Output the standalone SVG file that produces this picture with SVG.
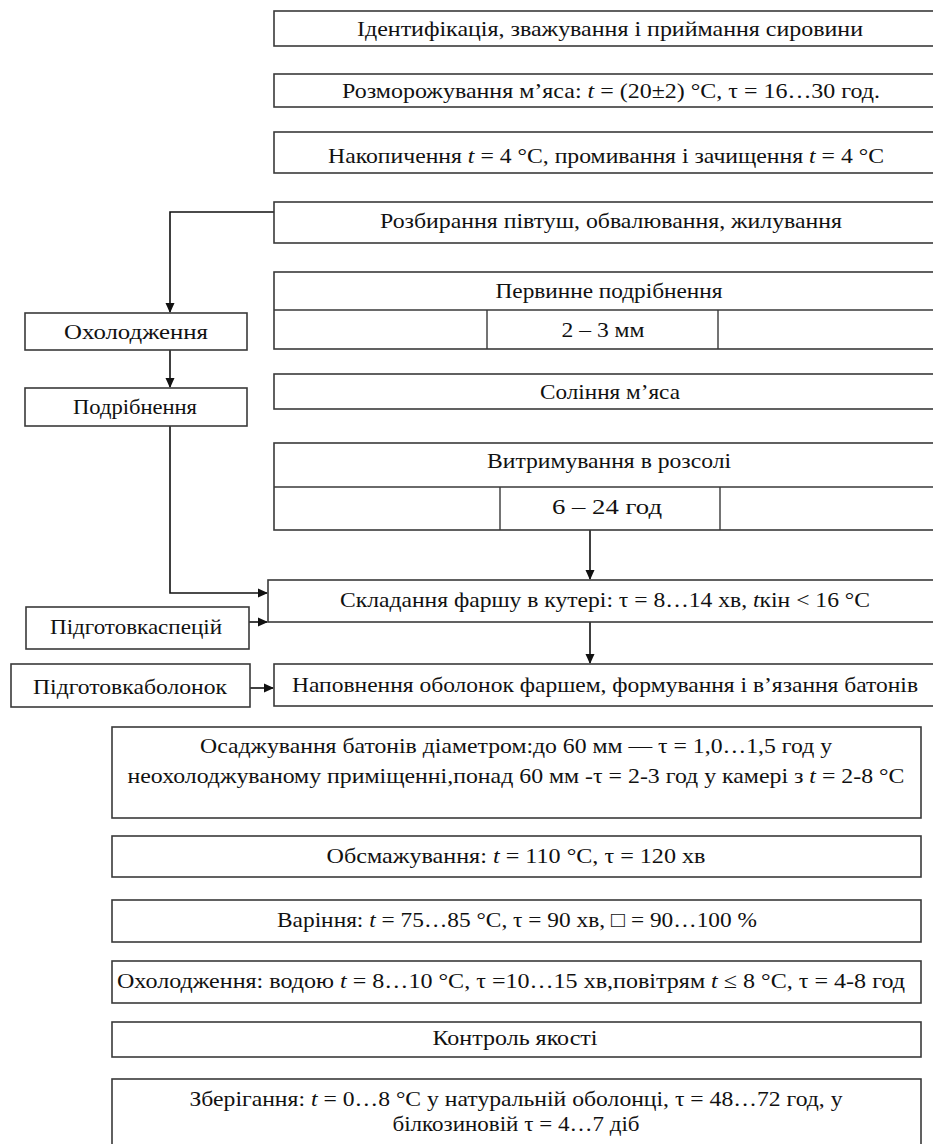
<svg xmlns="http://www.w3.org/2000/svg" width="933" height="1144" viewBox="0 0 933 1144">
<style>
.b{fill:#fff;stroke:#3a3a3a;stroke-width:1.6}
.l{fill:none;stroke:#3a3a3a;stroke-width:1.4}
.c{fill:none;stroke:#111;stroke-width:1.6}
text{font-family:"Liberation Serif","Times New Roman",serif;font-size:22px;fill:#111;text-anchor:middle}
.i{font-style:italic}
</style>
<defs>
<marker id="ah" markerWidth="10" markerHeight="10" refX="9" refY="5" orient="auto" markerUnits="userSpaceOnUse">
<path d="M0,0.5 L10,5 L0,9.5 Z" fill="#111"/>
</marker>
</defs>
<rect width="933" height="1144" fill="#fff"/>
<g id="connectors">
<path class="c" d="M274,212 H170 V312" marker-end="url(#ah)"/>
<path class="c" d="M170,350 V387" marker-end="url(#ah)"/>
<path class="c" d="M170,426 V593 H267" marker-end="url(#ah)"/>
<path class="c" d="M249,622 H267" marker-end="url(#ah)"/>
<path class="c" d="M250,688 H273" marker-end="url(#ah)"/>
<path class="c" d="M590,530 V579" marker-end="url(#ah)"/>
<path class="c" d="M590,622 V663" marker-end="url(#ah)"/>
</g>
<g id="n1"><rect class="b" x="274" y="11" width="680" height="35"/><text x="610" y="36" textLength="506" lengthAdjust="spacingAndGlyphs">Ідентифікація, зважування і приймання сировини</text></g>
<g id="n2"><rect class="b" x="274" y="74" width="680" height="33"/><text x="611" y="98" textLength="538" lengthAdjust="spacingAndGlyphs">Розморожування м’яса: <tspan class="i">t</tspan> = (20±2) °C, τ = 16…30 год.</text></g>
<g id="n3"><rect class="b" x="274" y="132" width="680" height="41"/><text x="606" y="163" textLength="556" lengthAdjust="spacingAndGlyphs">Накопичення <tspan class="i">t</tspan> = 4 °C, промивання і зачищення  <tspan class="i">t</tspan> = 4 °C</text></g>
<g id="n4"><rect class="b" x="274" y="202" width="680" height="41"/><text x="611" y="228" textLength="462" lengthAdjust="spacingAndGlyphs">Розбирання півтуш, обвалювання, жилування</text></g>
<g id="n5"><rect class="b" x="274" y="272" width="680" height="77"/><path class="l" d="M274,310 H954 M487,310 V349 M718,310 V349"/><text x="609" y="298" textLength="227" lengthAdjust="spacingAndGlyphs">Первинне подрібнення</text><text x="603" y="337" textLength="83" lengthAdjust="spacingAndGlyphs">2 – 3 мм</text></g>
<g id="n6"><rect class="b" x="274" y="374" width="680" height="35"/><text x="610" y="399" textLength="140" lengthAdjust="spacingAndGlyphs">Солiння м’яса</text></g>
<g id="n7"><rect class="b" x="274" y="443" width="680" height="87"/><path class="l" d="M274,487 H954 M500,487 V530 M720,487 V530"/><text x="609" y="468" textLength="244" lengthAdjust="spacingAndGlyphs">Витримування в розсолі</text><text x="607" y="514" textLength="110" lengthAdjust="spacingAndGlyphs">6 – 24 год</text></g>
<g id="n8"><rect class="b" x="25" y="313" width="222" height="37"/><text x="136" y="339" textLength="144" lengthAdjust="spacingAndGlyphs">Охолодження</text></g>
<g id="n9"><rect class="b" x="25" y="388" width="222" height="38"/><text x="135" y="414" textLength="124" lengthAdjust="spacingAndGlyphs">Подрібнення</text></g>
<g id="n10"><rect class="b" x="268" y="580" width="686" height="42"/><text x="605" y="607" textLength="530" lengthAdjust="spacingAndGlyphs">Складання фаршу в кутері: τ = 8…14 хв, <tspan class="i">t</tspan>кін &lt; 16 °C</text></g>
<g id="n11"><rect class="b" x="26" y="607" width="223" height="42"/><text x="136" y="634" textLength="172" lengthAdjust="spacingAndGlyphs">Підготовкаспецій</text></g>
<g id="n12"><rect class="b" x="11" y="664" width="239" height="43"/><text x="130" y="694" textLength="194" lengthAdjust="spacingAndGlyphs">Підготовкаболонок</text></g>
<g id="n13"><rect class="b" x="274" y="664" width="680" height="42"/><text x="605" y="692" textLength="626" lengthAdjust="spacingAndGlyphs">Наповнення оболонок фаршем, формування і в’язання батонів</text></g>
<g id="n14"><rect class="b" x="112" y="727" width="809" height="91"/><text x="516" y="753" textLength="632" lengthAdjust="spacingAndGlyphs">Осаджування батонів  діаметром:до  60 мм — τ = 1,0…1,5 год у</text><text x="516" y="783" textLength="777" lengthAdjust="spacingAndGlyphs">неохолоджуваному приміщенні,понад  60 мм -τ = 2-3 год у камері з <tspan class="i">t</tspan> = 2-8 °C</text></g>
<g id="n15"><rect class="b" x="112" y="836" width="809" height="41"/><text x="516" y="863" textLength="379" lengthAdjust="spacingAndGlyphs">Обсмажування: <tspan class="i">t</tspan> = 110 °C, τ = 120 хв</text></g>
<g id="n16"><rect class="b" x="112" y="900" width="809" height="42"/><text x="517" y="927" textLength="480" lengthAdjust="spacingAndGlyphs">Варіння: <tspan class="i">t</tspan> = 75…85 °C, τ = 90 хв, □ = 90…100 %</text></g>
<g id="n17"><rect class="b" x="112" y="961" width="809" height="42"/><text x="511" y="988" textLength="788" lengthAdjust="spacingAndGlyphs">Охолодження: водою <tspan class="i">t</tspan> = 8…10 °C, τ =10…15 хв,повітрям <tspan class="i">t</tspan> ≤ 8 °C, τ = 4-8 год</text></g>
<g id="n18"><rect class="b" x="112" y="1022" width="809" height="35"/><text x="515" y="1045" textLength="165" lengthAdjust="spacingAndGlyphs">Контроль якості</text></g>
<g id="n19"><rect class="b" x="112" y="1079" width="809" height="80"/><text x="516" y="1106" textLength="653" lengthAdjust="spacingAndGlyphs">Зберігання: <tspan class="i">t</tspan> = 0…8 °C у натуральній  оболонці, τ = 48…72 год, у</text><text x="516" y="1131" textLength="247" lengthAdjust="spacingAndGlyphs">білкозиновій τ = 4…7 діб</text></g>
</svg>
